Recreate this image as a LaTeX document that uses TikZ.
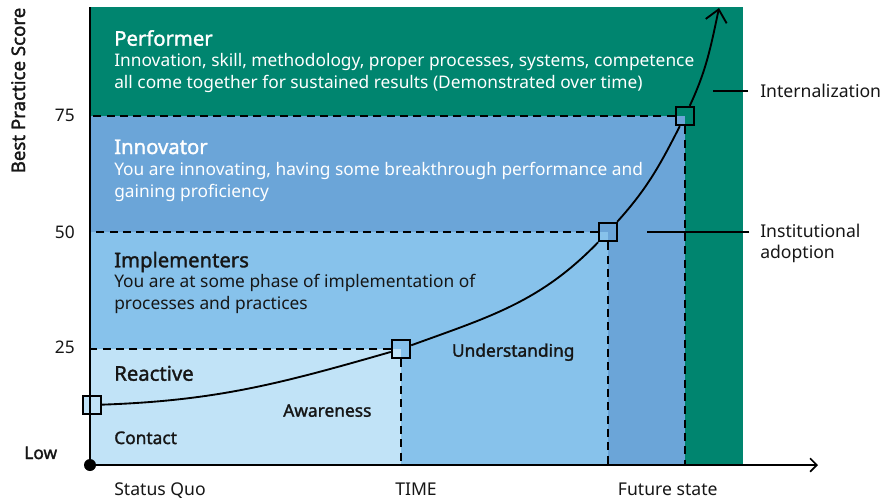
\documentclass[tikz,border=0pt]{standalone}
\usepackage{fontspec}
\setmainfont{Noto Sans}[BoldFont={Noto Sans},BoldFeatures={FakeBold=1.6}]
\usepackage{tikz}
\usetikzlibrary{arrows.meta}

\begin{document}
\begin{tikzpicture}
	[x=0.75pt,y=0.75pt,line cap=butt,
	%Styles
	heading/.style={anchor=base west,inner sep=0pt,font=\fontsize{15.2}{18}\selectfont\bfseries},
	body text/.style={anchor=base west,inner sep=0pt,align=left,font=\fontsize{13}{16.3}\selectfont},
	phase/.style={anchor=base west,inner sep=0pt,text=ink,font=\fontsize{13}{15}\selectfont\bfseries},
	axis label/.style={anchor=base west,inner sep=0pt,text=ink,align=left,font=\fontsize{13.2}{15.4}\selectfont},
	tick label/.style={anchor=east,inner sep=0pt,text=ink,font=\fontsize{13}{15}\selectfont},
	guide/.style={dash pattern=on 6pt off 4pt,line width=1pt},
	marker/.style={draw,line width=1.8pt,minimum size=13.5pt,inner sep=0pt},
	pointer/.style={line width=1pt}
	]
	
	%Colors
	\definecolor{performercolor}{HTML}{00856F}
	\definecolor{innovcolor}{HTML}{6BA5D8}
	\definecolor{implcolor}{HTML}{87C2EB}
	\definecolor{reactcolor}{HTML}{C1E3F7}
	\definecolor{ink}{HTML}{161616}
	
	\useasboundingbox (0,0) rectangle (881,-501);
	
	%The graphic
	\coordinate (o) at (90,-465);
	\coordinate (c0) at (92,-405);
	\coordinate (c1) at (401,-349);
	\coordinate (c2) at (608,-232);
	\coordinate (c3) at (685,-116);
	\coordinate (ytop) at (90,-7);
	\coordinate (xend) at (818,-465);
	\coordinate (tip) at (719,-8);
	
	\fill[performercolor] (o) rectangle (743,-7);
	\fill[innovcolor] (o) rectangle (c3);
	\fill[implcolor] (o) rectangle (c2);
	\fill[reactcolor] (o) rectangle (c1);
	
	\node[marker,fill=reactcolor] (p0) at (c0) {};
	\node[marker] (p1) at (c1) {};
	\node[marker] (p2) at (c2) {};
	\node[marker] (p3) at (c3) {};
	
	\draw[guide] (p1) -- (p1 -| o);
	\draw[guide] (p1) -- (p1 |- o);
	\draw[guide] (p2) -- (p2 -| o);
	\draw[guide] (p2) -- (p2 |- o);
	\draw[guide] (p3) -- (p3 -| o);
	\draw[guide] (p3) -- (p3 |- o);
	
	\draw[line width=1.4pt,-{Straight Barb[length=9pt,width=16pt,line width=1.4pt]}] (p0) to[out=2,in=196] (p1) to[out=20,in=226] (p2) to[out=48,in=243] (p3) to[out=65,in=258] (tip);
	
	\draw[line width=1.4pt] (o) -- (ytop);
	\draw[line width=1.3pt,-{Straight Barb[length=5pt,width=10pt]}] (o) -- (xend);
	\fill (o) circle (4.5pt);
	
	\node[heading,text=white] (perf) at (114,-45.7) {Performer};
	\node[body text,text=white] (perfdesc) at (114,-88.3) {Innovation, skill, methodology, proper processes, systems, competence\\all come together for sustained results (Demonstrated over time)};
	\node[heading,text=white] (innov) at (114,-154) {Innovator};
	\node[body text,text=white] (innovdesc) at (114,-197.5) {You are innovating, having some breakthrough performance and\\gaining proficiency};
	\node[heading,text=ink] (impl) at (114,-267.3) {Implementers};
	\node[body text,text=ink] (impldesc) at (114,-309.5) {You are at some phase of implementation of\\processes and practices};
	\node[heading,text=ink] (react) at (114,-380.7) {Reactive};
	\node[phase] (aware) at (283,-416.7) {Awareness};
	\node[phase] (contact) at (114,-444) {Contact};
	\node[phase] (underst) at (451.7,-356.7) {Understanding};
	
	\node[tick label] (t75) at (75,-115) {75};
	\node[tick label] (t50) at (75,-232) {50};
	\node[tick label] (t25) at (75,-347) {25};
	\node[phase] (low) at (24,-459) {Low};
	\node[rotate=90,anchor=base,text=ink,font=\fontsize{14}{16}\selectfont\bfseries] (score) at (25,-90.5) {Best Practice Score};
	
	\node[axis label] (quo) at (114,-495) {Status Quo};
	\node[axis label] (time) at (395,-495) {TIME};
	\node[axis label] (future) at (617.7,-495) {Future state};
	
	\node[axis label] (intl) at (760,-97.7) {Internalization};
	\node[axis label] (inst) at (760,-258) {Institutional\\adoption};
	\coordinate (intlend) at ([xshift=-9pt]intl.west);
	\coordinate (instend) at ([xshift=-8pt]inst.west);
	\draw[pointer] (intlend) -- ++(-35,0);
	\draw[pointer] (instend |- p2) -- ++(-102,0);
\end{tikzpicture}
\end{document}
